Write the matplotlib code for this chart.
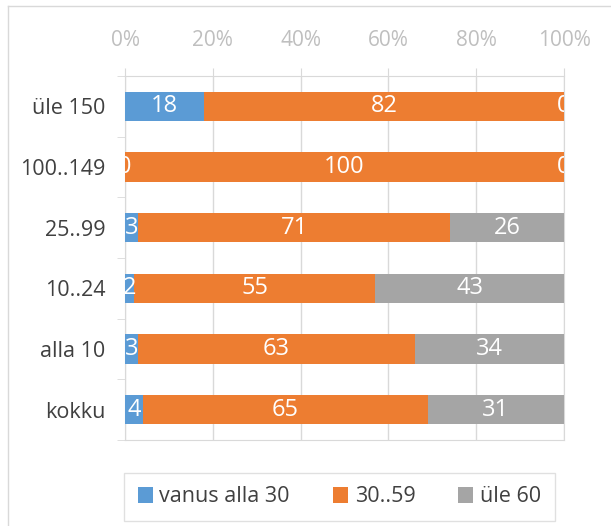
import numpy as np
import matplotlib.pyplot as plt
from matplotlib.lines import Line2D

plt.rcParams['font.family'] = ['Open Sans', 'DejaVu Sans']

# data (top to bottom as in the picture)
categories = ['üle 150', '100..149', '25..99', '10..24', 'alla 10', 'kokku']
series_names = ['vanus alla 30', '30..59', 'üle 60']
young = [18, 0, 3, 2, 3, 4]
middle = [82, 100, 71, 55, 63, 65]
old = [0, 0, 26, 43, 34, 31]
colors = ['#5B9BD5', '#ED7D31', '#A5A5A5']
grid_c = '#D9D9D9'

fig = plt.figure(figsize=(6.11, 5.26), dpi=100)
ax = fig.add_axes([125/611, 1 - 440/526, (564 - 125)/611, (440 - 76)/526])

y = np.arange(len(categories))
left = np.zeros(len(categories))
for name, vals, c in zip(series_names, [young, middle, old], colors):
    vals = np.array(vals, dtype=float)
    ax.barh(y, vals, left=left, height=0.48, color=c, label=name, zorder=3)
    for yi, l, v in zip(y, left, vals):
        ax.text(l + v / 2, yi, f'{v:.0f}', ha='center', va='center',
                color='white', fontsize=17, zorder=4, clip_on=True)
    left += vals

ax.set_xlim(0, 100)
ax.set_ylim(len(categories) - 0.5, -0.5)
ax.set_xticks(np.arange(0, 101, 20))
ax.set_xticklabels([f'{t}%' for t in range(0, 101, 20)])
ax.xaxis.tick_top()
ax.tick_params(axis='x', colors=grid_c, labelcolor='#BFBFBF', labelsize=15,
               length=5.8, pad=12)
ax.set_yticks(y)
ax.set_yticklabels(categories)
ax.set_yticks(np.arange(-0.5, len(categories), 1), minor=True)
ax.tick_params(axis='y', which='major', length=0, pad=14, labelsize=15.5,
               labelcolor='#404040')
ax.tick_params(axis='y', which='minor', length=5.8, color=grid_c)
ax.grid(axis='x', color=grid_c, linewidth=1, zorder=0)
ax.set_axisbelow(True)
for s in ax.spines.values():
    s.set_color(grid_c)

# outer chart frame (partly outside the picture)
fig.add_artist(Line2D([8/611, 1], [1 - 6/526, 1 - 6/526], color=grid_c, lw=1))
fig.add_artist(Line2D([8/611, 8/611], [0, 1 - 6/526], color=grid_c, lw=1))

leg = fig.legend(loc='center', bbox_to_anchor=(339.5/611, 1 - 497/526), ncol=3,
                 fontsize=15.5, frameon=True, fancybox=False, handlelength=0.7,
                 handleheight=0.7, handletextpad=0.3, columnspacing=2.0,
                 borderpad=0.65)
leg.get_frame().set_edgecolor(grid_c)
leg.get_frame().set_linewidth(1)
for t in leg.get_texts():
    t.set_color('#404040')

fig.savefig('out.png', dpi=100)
